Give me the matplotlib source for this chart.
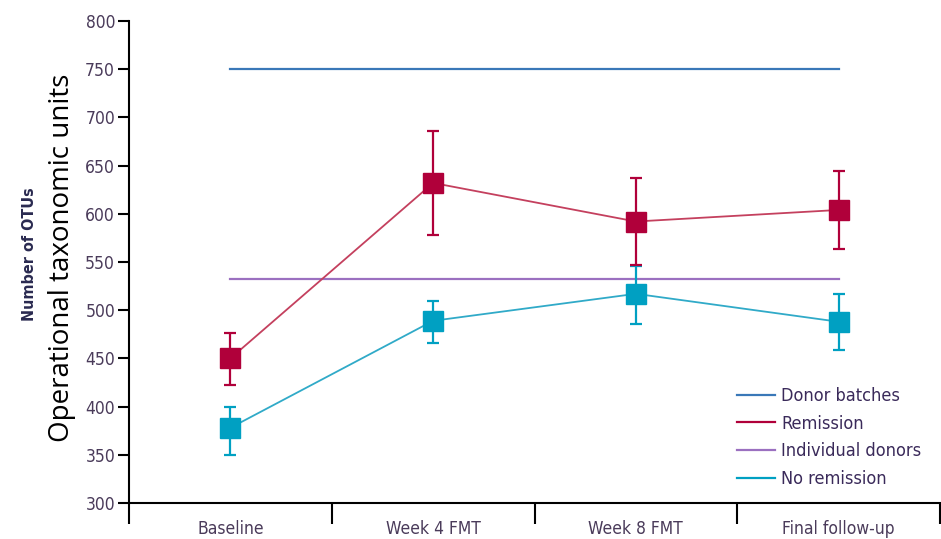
import numpy as np
import matplotlib
matplotlib.use('Agg')
from matplotlib import pyplot as plt
from matplotlib.lines import Line2D

timepoints = ['Baseline', 'Week 4 FMT', 'Week 8 FMT', 'Final follow-up']
remission = [450, 632, 592, 604]
remission_lo = [422, 578, 547, 563]
remission_hi = [476, 686, 637, 644]
no_remission = [378, 489, 517, 488]
no_remission_lo = [350, 466, 486, 459]
no_remission_hi = [400, 510, 546, 517]
donor_batches = 750
individual_donors = 532
yticks = np.arange(300, 801, 50)

c_batch = '#3a78b8'
c_rem = '#b0003a'
c_indiv = '#9b70c0'
c_norem = '#00a0c2'
tick_col = '#4a3b5a'

fig = plt.figure(figsize=(9.41, 5.39), dpi=100)
ax = fig.add_axes([129 / 941, 36 / 539, 811 / 941, 482 / 539])

x = np.arange(len(timepoints)) + 0.5

ax.plot([x[0], x[-1]], [donor_batches] * 2, color=c_batch, lw=1.6)
ax.plot([x[0], x[-1]], [individual_donors] * 2, color=c_indiv, lw=1.6)

rem = np.array(remission)
ax.errorbar(x, rem, yerr=[rem - np.array(remission_lo), np.array(remission_hi) - rem],
            color='#c4405e', lw=1.3, ecolor=c_rem, elinewidth=1.6, capsize=4.5, capthick=1.6,
            marker='s', ms=14, mfc=c_rem, mec=c_rem, zorder=3)

nr = np.array(no_remission)
ax.errorbar(x, nr, yerr=[nr - np.array(no_remission_lo), np.array(no_remission_hi) - nr],
            color='#30aac8', lw=1.3, ecolor=c_norem, elinewidth=1.6, capsize=4.5, capthick=1.6,
            marker='s', ms=14, mfc=c_norem, mec=c_norem, zorder=2)

ax.set_xlim(0, 4)
ax.set_ylim(300, 800)
ax.set_yticks(yticks)
ax.set_xticks(np.arange(5))
ax.set_xticklabels([])
ax.set_xticks(x, minor=True)
ax.set_xticklabels(timepoints, minor=True)

font = ['DejaVu Sans']
for lab in ax.get_yticklabels():
    lab.set_family(font)
    lab.set_stretch('condensed')
for lab in ax.get_xticklabels(minor=True):
    lab.set_family(font)
    lab.set_stretch('condensed')

ax.tick_params(axis='y', direction='out', length=8, width=1.5, labelsize=12.5, colors='black',
               labelcolor=tick_col, pad=2)
ax.tick_params(axis='x', which='major', direction='out', length=15, width=1.5)
ax.tick_params(axis='x', which='minor', length=0, labelsize=12.5, labelcolor=tick_col, pad=12)

for s in ['top', 'right']:
    ax.spines[s].set_visible(False)
for s in ['left', 'bottom']:
    ax.spines[s].set_linewidth(1.5)

fig.text(30 / 941, 1 - 254 / 539, 'Number of OTUs', rotation=90, ha='center', va='center',
         fontsize=11.5, color='#2a2a50', family=font, stretch='condensed', weight='semibold')
fig.text(62 / 941, 1 - 258 / 539, 'Operational taxonomic units', rotation=90, ha='center',
         va='center', fontsize=20, color='black', family=['Open Sans', 'DejaVu Sans'])

handles = [Line2D([], [], color=c_batch, lw=1.6),
           Line2D([], [], color=c_rem, lw=1.6),
           Line2D([], [], color=c_indiv, lw=1.6),
           Line2D([], [], color=c_norem, lw=1.6)]
labels = ['Donor batches', 'Remission', 'Individual donors', 'No remission']
leg = fig.legend(handles, labels, loc='upper left', bbox_to_anchor=(730 / 941, 1 - 380 / 539),
                 frameon=False, handlelength=2.1, handletextpad=0.35, labelspacing=0.53,
                 borderaxespad=0, prop={'family': font, 'size': 13, 'stretch': 'condensed'})
for t in leg.get_texts():
    t.set_color('#3a2a5a')

fig.savefig('out.png', dpi=100)
